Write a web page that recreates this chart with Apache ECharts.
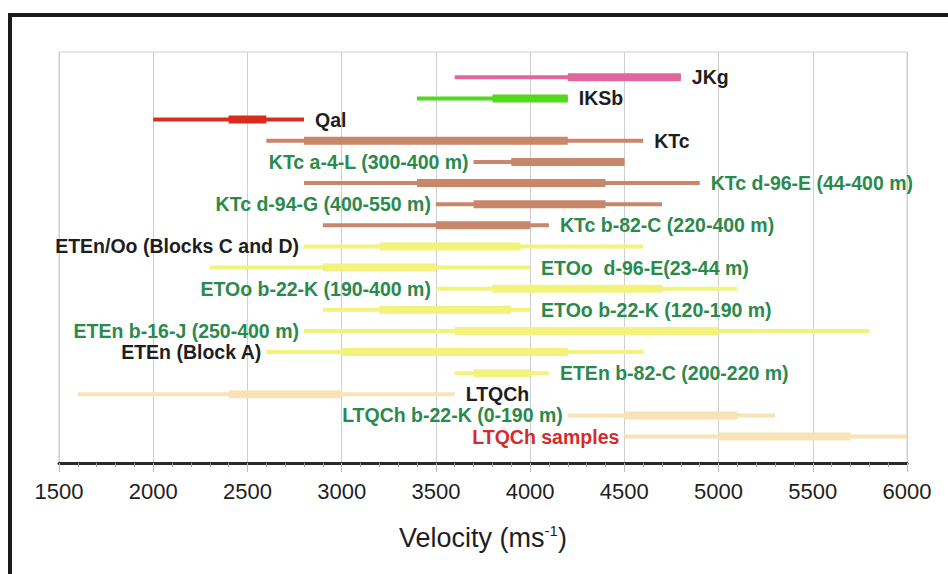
<!DOCTYPE html>
<html>
<head>
<meta charset="utf-8">
<title>Velocity ranges</title>
<script src="https://cdn.jsdelivr.net/npm/echarts@6/dist/echarts.min.js"></script>
<style>
  html, body { margin: 0; padding: 0; background: #fff; }
  #chart { width: 948px; height: 574px; }
</style>
</head>
<body>
<div id="chart"></div>
<script>
// rows, top to bottom
const units = [
  'JKg', 'IKSb', 'Qal', 'KTc',
  'KTc a-4-L (300-400 m)', 'KTc d-96-E (44-400 m)', 'KTc d-94-G (400-550 m)', 'KTc b-82-C (220-400 m)',
  'ETEn/Oo (Blocks C and D)', 'ETOo  d-96-E(23-44 m)', 'ETOo b-22-K (190-400 m)', 'ETOo b-22-K (120-190 m)',
  'ETEn b-16-J (250-400 m)', 'ETEn (Block A)', 'ETEn b-82-C (200-220 m)',
  'LTQCh', 'LTQCh b-22-K (0-190 m)', 'LTQCh samples'
];
// formation of each row
const groups = [
  'JKg', 'IKSb', 'Qal', 'KTc', 'KTc', 'KTc', 'KTc', 'KTc',
  'ETE', 'ETE', 'ETE', 'ETE', 'ETE', 'ETE', 'ETE',
  'LTQCh', 'LTQCh', 'LTQCh'
];
// velocity ranges (m/s): full range = thin line, common range = thick line
const thinStart  = [3600, 3400, 2000, 2600, 3700, 2800, 3500, 2900, 2800, 2300, 3500, 2900, 2800, 2600, 3600, 1600, 4200, 4500];
const thickStart = [4200, 3800, 2400, 2800, 3900, 3400, 3700, 3500, 3200, 2900, 3800, 3200, 3600, 3000, 3700, 2400, 4500, 5000];
const thickEnd   = [4800, 4200, 2600, 4200, 4500, 4400, 4400, 4000, 3950, 3500, 4700, 3900, 5000, 4200, 4000, 3000, 5100, 5700];
const thinEnd    = [4800, 4200, 2800, 4600, 4500, 4900, 4700, 4100, 4600, 4000, 5100, 4000, 5800, 4600, 4100, 3600, 5300, 6000];

// styles
const barColors = {
  JKg: '#e0669e',
  IKSb: '#52d81e',
  Qal: '#d92b20',
  KTc: '#c8876a',
  ETE: '#f2f27c',
  LTQCh: '#f7e3b6'
};
const leftLabels = [4, 6, 8, 10, 12, 13, 16, 17];
const blackLabels = [0, 1, 2, 3, 8, 13, 15];
const redLabels = [17];
const fontFamily = '"Liberation Sans", Arial, sans-serif';

const rows = units.map((u, i) => [i, thinStart[i], thickStart[i], thickEnd[i], thinEnd[i]]);

function labelColor(i) {
  if (redLabels.includes(i)) return '#d42b2b';
  if (blackLabels.includes(i)) return '#1e1e1e';
  return '#2a8a4c';
}

// draw thin + thick segment and the label of one row
function renderRow(params, api) {
  const i = api.value(0);
  const a = api.coord([api.value(1), i]);
  const b = api.coord([api.value(2), i]);
  const c = api.coord([api.value(3), i]);
  const d = api.coord([api.value(4), i]);
  const color = barColors[groups[i]];
  const onLeft = leftLabels.includes(i);
  return {
    type: 'group',
    children: [
      {
        type: 'line',
        shape: { x1: a[0], y1: a[1], x2: d[0], y2: d[1] },
        style: { stroke: color, lineWidth: 4 }
      },
      {
        type: 'line',
        shape: { x1: b[0], y1: b[1], x2: c[0], y2: c[1] },
        style: { stroke: color, lineWidth: 8 }
      },
      {
        type: 'text',
        x: onLeft ? a[0] - 5 : d[0] + 11,
        y: a[1],
        style: {
          text: units[i],
          fill: labelColor(i),
          fontSize: 19.5,
          fontWeight: 'bold',
          fontFamily: fontFamily,
          align: onLeft ? 'right' : 'left',
          verticalAlign: 'middle'
        }
      }
    ]
  };
}

const chart = echarts.init(document.getElementById('chart'), null, { renderer: 'svg' });

chart.setOption({
  backgroundColor: '#fff',
  animation: false,
  grid: {
    left: 59,
    right: 41,
    top: 52,
    bottom: 111,
    show: true,
    borderColor: '#cfcfcf',
    borderWidth: 1
  },
  xAxis: {
    type: 'value',
    min: 1500,
    max: 6000,
    interval: 500,
    name: '{a|Velocity (ms}{b|-1}{a|)}',
    nameLocation: 'middle',
    nameGap: 60,
    nameTextStyle: {
      rich: {
        a: { fontSize: 27, color: '#1e1e1e', fontFamily: fontFamily, lineHeight: 30 },
        b: { fontSize: 15, color: '#1e1e1e', fontFamily: fontFamily, verticalAlign: 'top', lineHeight: 30 }
      }
    },
    axisLine: { show: true, onZero: false, lineStyle: { color: '#2a2a2a', width: 3 } },
    axisTick: { show: true, length: 9, lineStyle: { color: '#bdbdbd', width: 1 } },
    minorTick: { show: true, splitNumber: 5, length: 4, lineStyle: { color: '#9a9a9a', width: 1 } },
    splitLine: { show: true, lineStyle: { color: '#cfcfcf', width: 1 } },
    axisLabel: {
      fontSize: 22,
      color: '#1e1e1e',
      fontFamily: fontFamily,
      margin: 17,
      formatter: (v) => String(v)
    }
  },
  yAxis: {
    type: 'value',
    inverse: true,
    min: -1.2,
    max: 18.25,
    show: false,
    splitLine: { show: false }
  },
  series: [
    {
      type: 'custom',
      renderItem: renderRow,
      clip: false,
      encode: { x: [1, 2, 3, 4], y: 0 },
      data: rows
    }
  ],
  graphic: [
    {
      type: 'rect',
      shape: { x: 10, y: 15, width: 1000, height: 1000 },
      style: { fill: 'none', stroke: '#1a1a1a', lineWidth: 4 },
      silent: true
    }
  ]
});
</script>
</body>
</html>
